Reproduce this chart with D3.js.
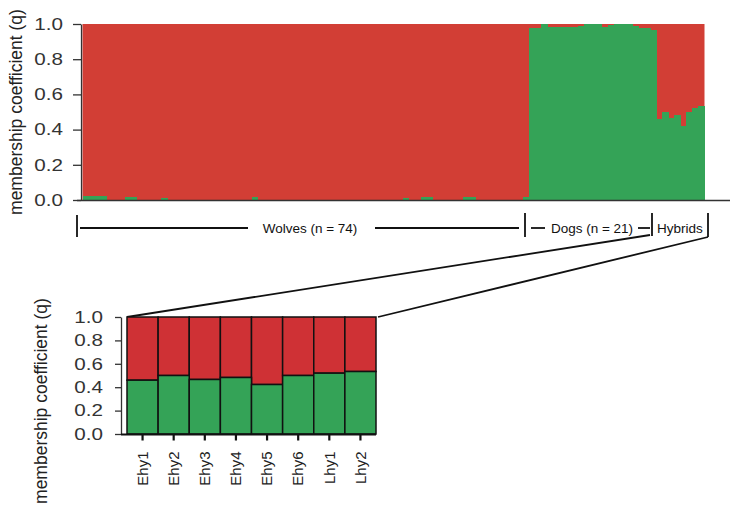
<!DOCTYPE html>
<html><head><meta charset="utf-8">
<script src="https://cdn.jsdelivr.net/npm/d3@7"></script>
<style>body{margin:0;background:#fff}svg{display:block;font-family:"Liberation Sans",Arial,sans-serif}</style>
</head><body><svg id="c" width="737" height="512"></svg>
<script>
// ---- data ----
const wolfGreen = [0.02,0.02,0.02,0.02,0,0,0,0.015,0.015,0,0,0,0,0.01,0,0,0,0,0,0,0,0,0,0,0,0,0,0,0.015,0,
  0,0,0,0,0,0,0,0,0,0,0,0,0,0,0,0,0,0,0,0,0,0,0,0.01,0,0,0.015,0.015,0,0,0,0,0,0.015,0.015,0,0,0,0,0,0,0,0,0.015];
const dogGreen = [0.98,0.98,1.0,0.985,0.985,0.985,0.985,0.985,0.99,1.0,1.0,1.0,0.985,0.995,1.0,1.0,1.0,0.99,0.98,0.975,0.965];
const hybridNames = ["Ehy1","Ehy2","Ehy3","Ehy4","Ehy5","Ehy6","Lhy1","Lhy2"];
const hybridGreen = [0.46,0.50,0.466,0.483,0.423,0.50,0.52,0.534];
const yTicks = [0,0.2,0.4,0.6,0.8,1.0];
const groups = [{name:"Wolves (n = 74)", n:74},{name:"Dogs (n = 21)", n:21},{name:"Hybrids", n:8}];
const yLabel = "membership coefficient (q)";

const RED = "#d23e35", GREEN = "#34a357", RED2 = "#cf3135";
const svg = d3.select("#c");

// ---- top chart ----
const all = wolfGreen.concat(dogGreen, hybridGreen).map((g,i)=>({i, g}));
const xTop = d3.scaleBand().domain(all.map(d=>d.i)).range([82.5, 704.5]).padding(0);
const yTop = d3.scaleLinear().domain([0,1]).range([200,24]);
const gTop = svg.append("g");
gTop.append("rect").attr("x",xTop.range()[0]).attr("width",xTop.range()[1]-xTop.range()[0])
  .attr("y",yTop(1)).attr("height",yTop(0)-yTop(1)).attr("fill",RED);
gTop.selectAll("rect.g").data(all).join("rect").attr("class","g")
  .attr("shape-rendering","crispEdges")
  .attr("x", d=>xTop(d.i)).attr("width", xTop.bandwidth()+0.5)
  .attr("y", d=>yTop(d.g)).attr("height", d=>yTop(0)-yTop(d.g)).attr("fill", GREEN);
gTop.append("line").attr("x1",77).attr("x2",730).attr("y1",200.5).attr("y2",200.5).attr("stroke","#333").attr("stroke-width",1.5);
const axTop = gTop.append("g").attr("transform","translate(81,0)")
  .call(d3.axisLeft(yTop).tickValues(yTicks).tickFormat(d3.format(".1f")).tickSize(8).tickSizeOuter(0));
function styleAxis(g){
  g.select(".domain").attr("stroke","#333").attr("stroke-width",1.3);
  g.selectAll(".tick line").attr("stroke","#333").attr("stroke-width",1.3);
  g.selectAll(".tick text").attr("font-size",16.5).attr("fill","#333")
    .attr("font-family","'Liberation Sans',Arial,sans-serif")
    .attr("x",-18/1.25).attr("transform","scale(1.25,1)");
}
styleAxis(axTop);
svg.append("text").attr("transform","translate(22,112) rotate(-90)").attr("text-anchor","middle")
  .attr("font-size",17.5).attr("fill","#222").text(yLabel);

// ---- group brackets ----
const br = svg.append("g").attr("stroke","#111").attr("stroke-width",1.8).attr("fill","none");
const by = 228;
br.append("line").attr("x1",77).attr("x2",77).attr("y1",215).attr("y2",237);
br.append("line").attr("x1",80).attr("x2",248).attr("y1",by).attr("y2",by);
br.append("line").attr("x1",375).attr("x2",519).attr("y1",by).attr("y2",by);
br.append("line").attr("x1",525).attr("x2",525).attr("y1",213).attr("y2",237);
br.append("line").attr("x1",531).attr("x2",545).attr("y1",by).attr("y2",by);
br.append("line").attr("x1",638).attr("x2",650).attr("y1",by).attr("y2",by);
br.append("line").attr("x1",652).attr("x2",652).attr("y1",213).attr("y2",236);
br.append("line").attr("x1",708).attr("x2",708).attr("y1",213).attr("y2",237);
const gx = [310, 592, 680];
svg.selectAll("text.grp").data(groups).join("text").attr("class","grp")
  .attr("x",(d,i)=>gx[i]).attr("y",233).attr("text-anchor","middle")
  .attr("font-size",13.5).attr("fill","#111").text(d=>d.name);

// ---- bottom chart ----
const xB = d3.scaleBand().domain(hybridNames).range([127,376]).padding(0);
const yB = d3.scaleLinear().domain([0,1]).range([434,317]);
const bd = hybridNames.map((n,i)=>({n, g:hybridGreen[i]}));
br.append("line").attr("x1",650).attr("y1",235).attr("x2",xB.range()[0]).attr("y2",yB(1));
br.append("line").attr("x1",708).attr("y1",237).attr("x2",xB.range()[1]+2).attr("y2",yB(1));
const gBot = svg.append("g");
gBot.selectAll("rect.r").data(bd).join("rect").attr("class","r")
  .attr("x",d=>xB(d.n)).attr("width",xB.bandwidth()).attr("y",yB(1)).attr("height",d=>yB(d.g)-yB(1))
  .attr("fill",RED2).attr("stroke","#111").attr("stroke-width",1.5);
gBot.selectAll("rect.g").data(bd).join("rect").attr("class","g")
  .attr("x",d=>xB(d.n)).attr("width",xB.bandwidth()).attr("y",d=>yB(d.g)).attr("height",d=>yB(0)-yB(d.g))
  .attr("fill",GREEN).attr("stroke","#111").attr("stroke-width",1.5);
const axB = gBot.append("g").attr("transform","translate(121,0)")
  .call(d3.axisLeft(yB).tickValues(yTicks).tickFormat(d3.format(".1f")).tickSize(6).tickSizeOuter(0));
styleAxis(axB);
const axBx = gBot.append("g").attr("transform","translate(0,434.5)")
  .call(d3.axisBottom(xB).tickSize(6).tickSizeOuter(0));
axBx.select(".domain").attr("d","M121,0H376").attr("stroke","#111").attr("stroke-width",1.8);
axBx.selectAll(".tick line").attr("stroke","#111").attr("stroke-width",2.2);
axBx.selectAll(".tick text").attr("font-size",15).attr("fill","#222")
  .attr("font-family","'Liberation Sans',Arial,sans-serif")
  .attr("transform","rotate(-90)").attr("text-anchor","end").attr("x",-17).attr("y",0).attr("dy","0.35em");
svg.append("text").attr("transform","translate(47,401) rotate(-90)").attr("text-anchor","middle")
  .attr("font-size",17.5).attr("fill","#222").text(yLabel);
</script></body></html>
